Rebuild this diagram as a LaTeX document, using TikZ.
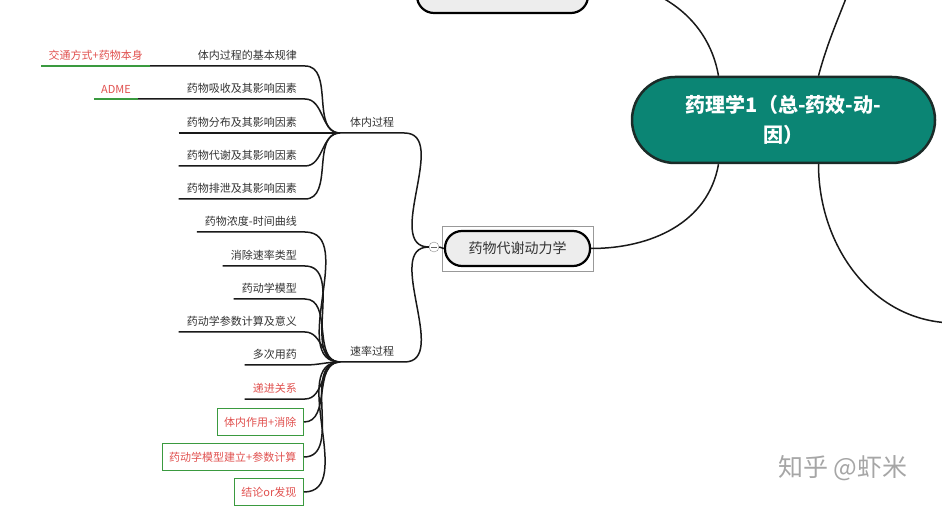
\documentclass[tikz,border=0pt]{standalone}
\usepackage{fontspec}
\setmainfont{Noto Sans CJK SC}
\usetikzlibrary{positioning,fit}

\definecolor{rootfill}{HTML}{0B8574}
\definecolor{rootline}{HTML}{1B2B28}
\definecolor{softred}{HTML}{E0504E}
\definecolor{boxgreen}{HTML}{3A9A3F}
\definecolor{txtgray}{HTML}{333333}

\tikzset{
  branch/.style={draw=black!90, line width=1.5pt},
  accent/.style={draw=boxgreen, line width=1.6pt},
  topic/.style={anchor=south east, inner xsep=8pt, inner ysep=5pt,
    font=\fontsize{11}{13}\selectfont, text=txtgray},
  note/.style={topic, inner xsep=7pt, text=softred},
  notebox/.style={anchor=east, draw=boxgreen, line width=1.3pt, inner xsep=7pt,
    minimum height=27pt, font=\fontsize{11}{13}\selectfont, text=softred},
  subtopic/.style={topic, anchor=south west, inner xsep=10pt},
  pill/.style={draw=black, line width=2.2pt, fill=black!7, rounded corners=17pt},
  selbox/.style={draw=black!40, line width=0.6pt, inner xsep=2pt, inner ysep=4pt},
  fold/.style={circle, draw=black!45, fill=white, minimum size=10pt, inner sep=0pt,
    path picture={\draw[black!60] ([xshift=-3pt]path picture bounding box.center)
      -- ([xshift=3pt]path picture bounding box.center);}},
}

\begin{document}
\begin{tikzpicture}[x=1pt, y=-1pt]
  \useasboundingbox (0,0) rectangle (942,510);
  \clip (0,0) rectangle (942,510);

  % central topic and its neighbours
  \node[draw=rootline, line width=2.5pt, fill=rootfill, rounded corners=43pt,
        minimum width=303pt, minimum height=86pt, align=center, text=white,
        font=\fontsize{20}{30}\selectfont\bfseries] (root) at (783.5,120)
        {药理学1（总-药效-动-\\因）};
  \node[pill, minimum width=171pt, minimum height=66pt] (prev) at (502.5,-20) {};
  \node[pill, minimum width=145pt, minimum height=35pt,
        font=\fontsize{14}{16}\selectfont, text=txtgray] (dyn) at (517.5,248.5) {药物代谢动力学};
  \node[selbox, fit=(dyn)] (sel) {};
  \node[fold] (fold) at (434,247) {};
  \coordinate (up) at (862,-50);
  \coordinate (down) at (955,323);

  % second level
  \node[subtopic] (invivo) at (340,133) {体内过程};
  \node[subtopic] (rate)   at (340,362) {速率过程};

  % 体内过程
  \node[topic] (a1) at (305,66)  {体内过程的基本规律};
  \node[topic] (a2) at (305,99)  {药物吸收及其影响因素};
  \node[topic] (a3) at (305,133) {药物分布及其影响因素};
  \node[topic] (a4) at (305,166) {药物代谢及其影响因素};
  \node[topic] (a5) at (305,199) {药物排泄及其影响因素};
  \node[note] (c1) at (150,66) {交通方式+药物本身};
  \node[note] (c2) at (138,99) {ADME};

  % 速率过程
  \node[topic] (b1) at (305,232) {药物浓度-时间曲线};
  \node[topic] (b2) at (305,266) {消除速率类型};
  \node[topic] (b3) at (305,299) {药动学模型};
  \node[topic] (b4) at (305,332) {药动学参数计算及意义};
  \node[topic] (b5) at (305,365) {多次用药};
  \node[topic, text=softred] (b6) at (305,399) {递进关系};
  \node[notebox] (b7) at (304,422) {体内作用+消除};
  \node[notebox] (b8) at (304,457) {药动学模型建立+参数计算};
  \node[notebox] (b9) at (304,492) {结论or发现};

  \node[text=black!35, font=\fontsize{25}{27}\selectfont] (mark) at (843,468) {知乎 @虾米};

  % connectors
  \draw[branch] ([xshift=-65pt]root.north) to[out=100,in=0] (prev.east);
  \draw[branch] ([xshift=35pt]root.north) to[out=75,in=-105] (up);
  \draw[branch] ([xshift=-65pt]root.south) to[out=-100,in=0] (dyn.east);
  \draw[branch] ([xshift=35pt]root.south) to[out=-90,in=180] (down);
  \draw[branch] (fold.east) -- (dyn.west);
  \foreach \s in {invivo,rate}
    \draw[branch] (\s.south west) -- (\s.south east) to[out=0,in=180] (fold.west);

  \draw[accent] (c1.south west) -- (c1.south east);
  \draw[accent] (c2.south west) -- (c2.south east);
  \draw[branch] (c1.south east) -- (a1.south east) to[out=0,in=180] (invivo.south west);
  \draw[branch] (c2.south east) -- (a2.south east) to[out=0,in=180] (invivo.south west);
  \foreach \t in {a3,a4,a5}
    \draw[branch] (\t.south west) -- (\t.south east) to[out=0,in=180] (invivo.south west);

  \foreach \t in {b1,b2,b3,b4,b5,b6}
    \draw[branch] (\t.south west) -- (\t.south east) to[out=0,in=180] (rate.south west);
  \foreach \t in {b7,b8,b9}
    \draw[branch] (\t.east) to[out=0,in=180] (rate.south west);
\end{tikzpicture}
\end{document}
